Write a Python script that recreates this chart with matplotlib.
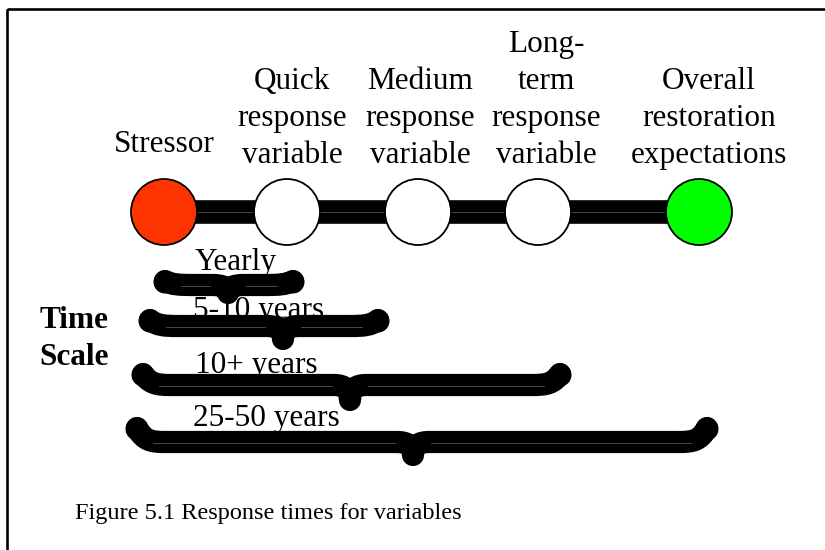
import matplotlib
matplotlib.use("Agg")
import matplotlib.pyplot as plt
from matplotlib.path import Path
from matplotlib.patches import PathPatch, Circle, Rectangle

# ---- data ----
stages = ["Stressor",
          "Quick\nresponse\nvariable",
          "Medium\nresponse\nvariable",
          "Long-\nterm\nresponse\nvariable",
          "Overall\nrestoration\nexpectations"]
stage_colors = ["#FF3300", "#FFFFFF", "#FFFFFF", "#FFFFFF", "#00FF00"]
time_labels = ["Yearly", "5-10 years", "10+ years", "25-50 years"]
time_side_label = "Time\nScale"
caption = "Figure 5.1 Response times for variables"

# ---- layout (pixel space, y downwards) ----
W, H = 825, 550
node_x = [164, 287, 418, 538, 699]
node_y = 212
node_r = 33
label_x = [164, 292, 420, 546, 709]
label_last_baseline = [152, 163, 163, 163, 163]
line_step = 37

# braces: left, right, point x, body y, tip rise, point depth
brace_left = [165, 150, 143, 137]
brace_right = [293, 378, 560, 707]
brace_point = [228, 283, 350, 413]
brace_body_y = [285, 326, 385, 442]
brace_rise = [4, 6, 11, 14]
brace_depth = [8, 13, 15, 13]
blabel_x = [195, 193, 195, 193]
blabel_base = [270, 318, 373, 426]

FONT = "Liberation Serif"
FS = 22.5

fig = plt.figure(figsize=(W / 100, H / 100), dpi=100)
ax = fig.add_axes([0, 0, 1, 1])
ax.set_xlim(0, W)
ax.set_ylim(H, 0)
ax.axis("off")

# frame
ax.add_patch(Rectangle((7, 9), 840, 560, fill=False, lw=1.9, ec="black", zorder=1))

# connector line
ax.plot([node_x[0], node_x[-1]], [node_y, node_y], color="black", lw=17,
        solid_capstyle="round", zorder=2)
ax.plot([node_x[0], node_x[-1]], [node_y, node_y], color="#555555", lw=0.6, zorder=2.1)

# nodes
for x, c in zip(node_x, stage_colors):
    ax.add_patch(Circle((x, node_y), node_r, fc=c, ec="black", lw=1.3, zorder=3))

# stage labels (each line placed individually)
for lab, x, yb in zip(stages, label_x, label_last_baseline):
    lines = lab.split("\n")
    n = len(lines)
    for i, ln in enumerate(lines):
        y = yb - (n - 1 - i) * line_step
        ax.text(x, y, ln, ha="center", va="baseline", fontsize=FS,
                family=FONT, zorder=5)


def brace_path(L, R, xc, yb, rise, depth, cw=28, pw=16):
    verts = [
        (L, yb - rise),
        (L + cw * 0.25, yb - rise * 0.1), (L + cw * 0.5, yb), (L + cw, yb),
        (xc - pw, yb),
        (xc - pw * 0.35, yb), (xc, yb + depth * 0.3), (xc, yb + depth),
        (xc, yb + depth * 0.3), (xc + pw * 0.35, yb), (xc + pw, yb),
        (R - cw, yb),
        (R - cw * 0.5, yb), (R - cw * 0.25, yb - rise * 0.1), (R, yb - rise),
    ]
    codes = [Path.MOVETO,
             Path.CURVE4, Path.CURVE4, Path.CURVE4,
             Path.LINETO,
             Path.CURVE4, Path.CURVE4, Path.CURVE4,
             Path.CURVE4, Path.CURVE4, Path.CURVE4,
             Path.LINETO,
             Path.CURVE4, Path.CURVE4, Path.CURVE4]
    return Path(verts, codes)


for L, R, xc, yb, rise, depth in zip(brace_left, brace_right, brace_point,
                                     brace_body_y, brace_rise, brace_depth):
    p = brace_path(L, R, xc, yb, rise, depth)
    ax.add_patch(PathPatch(p, fill=False, ec="black", lw=16,
                           capstyle="round", joinstyle="round", zorder=4))
    # blobby tips
    for tx in (L, R):
        ax.add_patch(Circle((tx, yb - rise + 1), 11.5, fc="black", ec="none", zorder=4))
    ax.plot([L + 16, xc - 18], [yb + 1, yb + 1], color="#555555", lw=0.6, zorder=4.1)
    ax.plot([xc + 18, R - 16], [yb + 1, yb + 1], color="#555555", lw=0.6, zorder=4.1)

for lab, x, yb in zip(time_labels, blabel_x, blabel_base):
    ax.text(x, yb, lab, ha="left", va="baseline", fontsize=22.5, family=FONT,
            zorder=5)

# side label
for i, ln in enumerate(time_side_label.split("\n")):
    ax.text(74, 328 + i * line_step, ln, ha="center", va="baseline",
            fontsize=FS, family=FONT, fontweight="bold", zorder=5)

# caption
ax.text(75, 519, caption, ha="left", va="baseline", fontsize=17.5,
        family=FONT, zorder=5)

fig.savefig("out.png", dpi=100)
